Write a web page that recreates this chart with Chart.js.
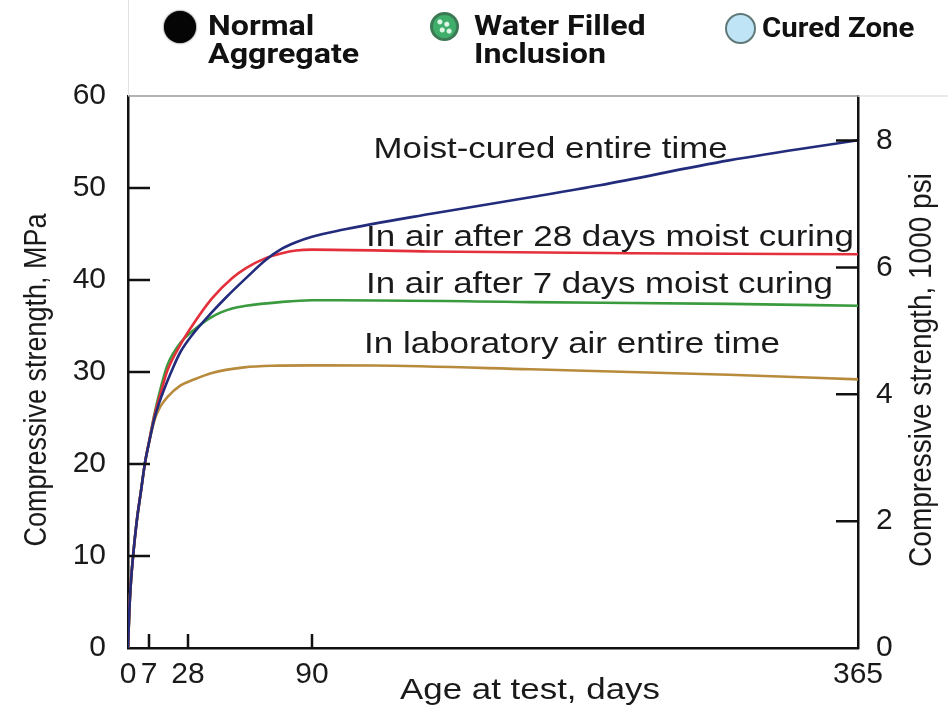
<!DOCTYPE html>
<html>
<head>
<meta charset="utf-8">
<title>Compressive strength vs age</title>
<script src="https://cdn.jsdelivr.net/npm/chart.js@4.4.1/dist/chart.umd.min.js"></script>
<style>
  html, body { margin: 0; padding: 0; background: #fff; }
  #wrap { position: relative; width: 948px; height: 707px; overflow: hidden; }
  #chart { position: absolute; left: 0; top: 0; }
  .key { position: absolute; top: 0; font-family: Roboto, "Liberation Sans", sans-serif; font-weight: 700;
         font-size: 28px; line-height: 28px; color: #111; transform: scaleX(1.15); transform-origin: 0 0;
         white-space: nowrap; }
  .dot { position: absolute; border-radius: 50%; box-sizing: border-box; }
  #topline { position: absolute; left: 128px; top: 0; width: 1px; height: 96px; background: #e2e2e2; }
</style>
</head>
<body>
<div id="wrap">
  <canvas id="chart" width="948" height="707"></canvas>
  <div id="topline"></div>
  <div class="dot" style="left:164px;top:11px;width:32px;height:32px;background:#050505;box-shadow:0 0 2px #000;"></div>
  <div class="key" style="left:208px;top:12px;">Normal<br>Aggregate</div>
  <div class="dot" style="left:430px;top:12px;width:29px;height:29px;border:3px solid #3c7a55;
       background:radial-gradient(circle at 30% 30%, #dff5e6 0 2px, transparent 3px),
                  radial-gradient(circle at 60% 40%, #dff5e6 0 2px, transparent 3px),
                  radial-gradient(circle at 40% 65%, #dff5e6 0 2px, transparent 3px),
                  radial-gradient(circle at 70% 70%, #dff5e6 0 2px, transparent 3px),
                  #3fae6a;"></div>
  <div class="key" style="left:474px;top:12px;">Water Filled<br>Inclusion</div>
  <div class="dot" style="left:725px;top:13px;width:31px;height:31px;border:2.5px solid #607878;background:#bfe4f6;"></div>
  <div class="key" style="left:762px;top:14px;transform:scaleX(1.05);">Cured Zone</div>
</div>
<script>
// x axis: age in days, y axes: MPa (left) and 1000 psi (right)
const X_TICKS = [0, 7, 28, 90, 365];
const Y_TICKS = [0, 10, 20, 30, 40, 50, 60];
const PSI_TICKS = [0, 2, 4, 6, 8];
const KSI_PER_MPA = 0.145038;

// Moist-cured entire time
const moistDays = [0, 0.5, 1, 1.7, 3, 4.3, 5.7, 7, 10, 14, 20, 24, 30, 40, 47, 57, 67, 75, 82, 90, 104, 150, 200, 235, 300, 365];
const moistMPa  = [0, 4.5, 7.3, 10, 14, 17, 20.2, 22.3, 25, 27.5, 30.5, 32.2, 34.0, 36.5, 38.1, 40.2, 42.2, 43.4, 44.1, 44.7, 45.4, 47.2, 49.0, 50.3, 53.0, 55.2];

// In air after 28 days moist curing
const air28Days = [0, 0.5, 1, 1.7, 3, 4.3, 5.7, 7, 10, 14, 17, 24, 30, 40, 50, 57, 66, 75, 82, 90, 150, 250, 365];
const air28MPa  = [0, 4.5, 7.3, 10, 14, 17, 20.2, 22.4, 25.3, 28.2, 30.2, 33.0, 35.0, 38.0, 40.2, 41.3, 42.3, 42.9, 43.2, 43.3, 43.1, 42.9, 42.8];

// In air after 7 days moist curing
const air7Days = [0, 0.5, 1, 1.7, 3, 4.3, 5.7, 7, 10, 14, 17, 24, 30, 40, 50, 57, 74, 90, 104, 200, 300, 365];
const air7MPa  = [0, 4.5, 7.3, 10, 14, 17, 20.2, 22.4, 25.5, 28.8, 30.8, 33.2, 34.4, 36.0, 36.9, 37.2, 37.6, 37.8, 37.8, 37.6, 37.4, 37.2];

// In laboratory air entire time
const labDays = [0, 0.5, 1, 1.7, 3, 4.3, 5.7, 7, 10, 13, 17, 24, 30, 40, 56, 70, 90, 120, 200, 300, 365];
const labMPa  = [0, 4.5, 7.3, 10, 14, 17, 20.2, 22.3, 24.8, 26.2, 27.3, 28.55, 29.1, 29.9, 30.5, 30.68, 30.72, 30.7, 30.3, 29.7, 29.2];

const FONT = '"Liberation Sans", Arial, Helvetica, sans-serif';
const INK = '#1a1a1a';

// the original day axis is not linear: knots of day -> fraction of axis length
const WARP_DAYS = [0, 7, 28, 90, 365];
const WARP_FRAC = [0, 21 / 730, 60 / 730, 184 / 730, 1];

function warp(v){
  if (v <= WARP_DAYS[0]) return WARP_FRAC[0];
  for (let i = 1; i < WARP_DAYS.length; i++){
    if (v <= WARP_DAYS[i]){
      const t = (v - WARP_DAYS[i-1]) / (WARP_DAYS[i] - WARP_DAYS[i-1]);
      return WARP_FRAC[i-1] + t * (WARP_FRAC[i] - WARP_FRAC[i-1]);
    }
  }
  return 1;
}
function unwarp(f){
  for (let i = 1; i < WARP_FRAC.length; i++){
    if (f <= WARP_FRAC[i]){
      const t = (f - WARP_FRAC[i-1]) / (WARP_FRAC[i] - WARP_FRAC[i-1]);
      return WARP_DAYS[i-1] + t * (WARP_DAYS[i] - WARP_DAYS[i-1]);
    }
  }
  return WARP_DAYS[WARP_DAYS.length - 1];
}

class WarpScale extends Chart.LinearScale {
  getPixelForValue(value){ return this.getPixelForDecimal(warp(value)); }
  getValueForPixel(pixel){ return unwarp(this.getDecimalForPixel(pixel)); }
}
WarpScale.id = 'warp';
WarpScale.defaults = {};
Chart.register(WarpScale);

const pts = (days, vals) => days.map((d, i) => ({ x: d, y: vals[i] }));

function series(label, days, vals, color){
  return {
    label, data: pts(days, vals), borderColor: color, backgroundColor: color,
    borderWidth: 2.6, pointRadius: 0, cubicInterpolationMode: 'monotone', yAxisID: 'y'
  };
}

// text in the figure is a little wider than the font; stretch to fit
function stretchText(ctx, text, x, y, size, targetW){
  ctx.save();
  ctx.font = `${size}px ${FONT}`;
  const w = ctx.measureText(text).width;
  ctx.translate(x, y);
  ctx.scale(targetW / w, 1);
  ctx.textAlign = 'left';
  ctx.textBaseline = 'alphabetic';
  ctx.fillStyle = INK;
  ctx.fillText(text, 0, 0);
  ctx.restore();
}

const CURVE_LABELS = [
  { text: 'Moist-cured entire time',            day: 121,   mpa: 53.3, w: 354 },
  { text: 'In air after 28 days moist curing',  day: 117.2, mpa: 43.7, w: 488 },
  { text: 'In air after 7 days moist curing',   day: 117.2, mpa: 38.6, w: 467 },
  { text: 'In laboratory air entire time',      day: 116.2, mpa: 32.1, w: 416 }
];

const decor = {
  id: 'decor',
  afterDraw(chart){
    const { ctx, chartArea: a, scales } = chart;
    const x = scales.x, y = scales.y, y2 = scales.y2;

    // light frame on top
    ctx.save();
    ctx.strokeStyle = '#9a9a9a';
    ctx.lineWidth = 1.5;
    ctx.beginPath(); ctx.moveTo(a.left, a.top); ctx.lineTo(a.right, a.top); ctx.stroke();
    ctx.strokeStyle = '#e2e2e2';
    ctx.beginPath(); ctx.moveTo(a.right, a.top); ctx.lineTo(chart.width, a.top); ctx.stroke();

    // inward tick marks
    ctx.strokeStyle = '#111';
    ctx.lineWidth = 2.5;
    ctx.beginPath();
    Y_TICKS.filter(v => v > 0 && v < 60).forEach(v => {
      const py = y.getPixelForValue(v);
      ctx.moveTo(a.left, py); ctx.lineTo(a.left + 22, py);
    });
    PSI_TICKS.filter(v => v > 0).forEach(v => {
      const py = y2.getPixelForValue(v);
      ctx.moveTo(a.right, py); ctx.lineTo(a.right - 22, py);
    });
    X_TICKS.filter(v => v > 0 && v < 365).forEach(v => {
      const px = x.getPixelForValue(v);
      ctx.moveTo(px, a.bottom); ctx.lineTo(px, a.bottom - 14);
    });
    ctx.stroke();
    ctx.restore();

    // curve labels
    CURVE_LABELS.forEach(l => {
      stretchText(ctx, l.text, x.getPixelForValue(l.day), y.getPixelForValue(l.mpa), 30, l.w);
    });

    // axis titles
    stretchText(ctx, 'Age at test, days', 400, 699, 30, 260);

    ctx.save();
    ctx.font = `27px ${FONT}`;
    ctx.fillStyle = INK;
    ctx.textAlign = 'center';
    ctx.textBaseline = 'middle';
    ctx.translate(37, (a.top + a.bottom) / 2 + 8);
    ctx.rotate(-Math.PI / 2);
    ctx.scale(1, 1.15);
    ctx.fillText('Compressive strength, MPa', 0, 0);
    ctx.restore();

    ctx.save();
    ctx.font = `28px ${FONT}`;
    ctx.fillStyle = INK;
    ctx.textAlign = 'center';
    ctx.textBaseline = 'middle';
    ctx.translate(922, (a.top + a.bottom) / 2 - 2);
    ctx.rotate(-Math.PI / 2);
    ctx.scale(1, 1.15);
    ctx.fillText('Compressive strength, 1000 psi', 0, 0);
    ctx.restore();
  }
};

const tickFont = { family: FONT, size: 30 };

new Chart(document.getElementById('chart'), {
  type: 'line',
  data: {
    datasets: [
      series('Moist-cured entire time', moistDays, moistMPa, '#222b7c'),
      series('In air after 28 days moist curing', air28Days, air28MPa, '#e4303c'),
      series('In air after 7 days moist curing', air7Days, air7MPa, '#3a9a3e'),
      series('In laboratory air entire time', labDays, labMPa, '#b88a3c')
    ]
  },
  options: {
    responsive: false,
    animation: false,
    layout: { padding: { top: 96, left: 0, right: 0, bottom: 0 } },
    plugins: { legend: { display: false }, tooltip: { enabled: false } },
    scales: {
      x: {
        type: 'warp', min: 0, max: 365, position: 'bottom',
        grid: { display: false, drawTicks: false },
        border: { display: true, color: '#111', width: 2.5 },
        ticks: { font: tickFont, color: INK, padding: 9, autoSkip: false, maxRotation: 0, callback: v => String(v) },
        afterBuildTicks: s => { s.ticks = X_TICKS.map(v => ({ value: v })); },
        afterFit: s => { s.height = 59; }
      },
      y: {
        type: 'linear', min: 0, max: 60, position: 'left',
        grid: { display: false, drawTicks: false },
        border: { display: true, color: '#111', width: 2.5 },
        ticks: { font: tickFont, color: INK, padding: 22, callback: v => String(v) },
        afterBuildTicks: s => { s.ticks = Y_TICKS.map(v => ({ value: v })); },
        afterFit: s => { s.width = 128; }
      },
      y2: {
        type: 'linear', min: 0, max: 60 * KSI_PER_MPA, position: 'right',
        grid: { display: false, drawTicks: false },
        border: { display: true, color: '#111', width: 2.5 },
        ticks: { font: tickFont, color: INK, padding: 18, callback: v => String(v) },
        afterBuildTicks: s => { s.ticks = PSI_TICKS.map(v => ({ value: v })); },
        afterFit: s => { s.width = 90; }
      }
    }
  },
  plugins: [decor]
});
</script>
</body>
</html>
